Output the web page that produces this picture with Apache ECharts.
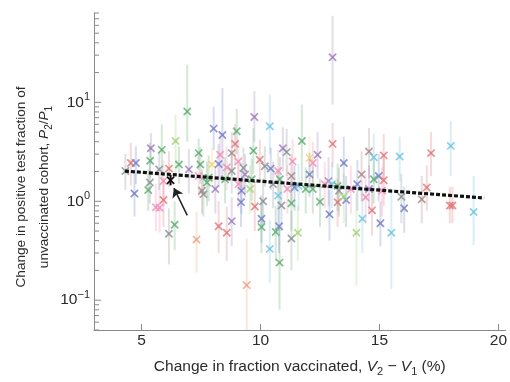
<!DOCTYPE html>
<html>
<head>
<meta charset="utf-8">
<script src="https://cdn.jsdelivr.net/npm/echarts@6/dist/echarts.min.js"></script>
<style>
  html, body { margin: 0; padding: 0; background: #fff; }
  #chart { width: 510px; height: 382px; }
</style>
</head>
<body>
<div id="chart"></div>
<script>
// marker colours (index used by colorIdx)
const palette = ['#7480c4', '#62ad72', '#e0787a', '#72c4e0', '#f090b8', '#a6d27a',
  '#8c9494', '#9c80bc', '#f0a080', '#f0d47a', '#a88a8a']

// change in fraction vaccinated (%)
const xVals = [4.32, 4.55, 4.76, 4.70, 5.39, 5.36, 5.35, 5.28, 5.85, 5.74,
  5.92, 5.60, 5.76, 5.92, 6.15, 6.43, 6.57, 6.39, 6.15, 6.92,
  6.99, 7.31, 7.40, 7.47, 7.54, 7.60, 7.75, 8.03, 8.40, 7.96,
  8.24, 8.10, 8.24, 8.58, 8.79, 9.00, 8.93, 8.79, 9.35, 9.20,
  9.18, 9.42, 9.74, 9.70, 9.97, 9.76, 10.04, 10.04, 10.11, 10.39,
  10.18, 10.43, 10.74, 10.39, 10.80, 10.78, 10.64, 10.88, 10.74, 10.81,
  10.94, 11.10, 11.30, 11.30, 11.30, 11.43, 11.74, 11.57, 12.06, 12.06,
  12.40, 11.90, 12.50, 12.86, 12.90, 13.03, 13.03, 13.24, 13.50, 13.60,
  13.30, 14.25, 14.07, 14.03, 14.28, 14.42, 14.56, 14.76, 14.69, 14.97,
  15.04, 15.18, 15.18, 15.11, 15.50, 15.85, 15.92, 16.04, 16.78, 16.99,
  17.17, 18.00, 17.96, 18.07, 18.96, 7.82, 8.51, 8.79, 9.07, 9.56,
  9.63, 10.53, 11.13, 11.60, 12.20, 12.70, 13.80, 14.56, 14.76, 7.40,
  8.30, 8.58, 9.07, 9.28, 11.35, 12.20, 13.00, 13.24, 13.50]

// P2/P1 (point, lower and upper end of the bar)
const yVals = [2.02, 2.44, 2.44, 1.20, 3.44, 2.57, 1.55, 1.30, 3.31, 2.10,
  1.60, 0.87, 0.86, 1.03, 2.14, 4.07, 2.35, 0.58, 0.47, 8.08,
  2.10, 0.41, 3.07, 2.35, 1.28, 1.18, 1.55, 5.43, 4.67, 2.35,
  2.38, 1.33, 0.56, 0.48, 0.63, 5.11, 3.80, 3.07, 1.87, 1.28,
  0.98, 0.142, 7.10, 3.24, 2.63, 0.886, 0.667, 0.55, 1.00, 5.73,
  2.26, 2.14, 2.02, 0.33, 0.24, 0.56, 0.49, 0.905, 1.14, 1.67,
  3.44, 3.14, 1.80, 0.42, 0.955, 1.38, 4.07, 0.48, 2.74, 1.87,
  2.95, 1.33, 0.99, 1.60, 0.74, 28.6, 3.80, 0.977, 2.44, 1.03,
  1.28, 1.87, 1.49, 0.48, 0.667, 1.10, 3.19, 2.78, 0.81, 1.80,
  0.60, 2.91, 1.63, 1.28, 0.48, 2.84, 1.11, 0.85, 1.05, 1.38,
  3.07, 3.63, 0.905, 0.905, 0.778, 1.73, 1.67, 2.02, 1.49, 1.33,
  1.67, 1.49, 1.33, 1.43, 1.33, 1.49, 1.33, 1.33, 1.67, 1.80,
  2.95, 2.20, 2.53, 2.17, 2.53, 2.44, 1.49, 1.43, 1.11]

const yLow = [1.30, 1.45, 1.50, 0.70, 2.40, 1.70, 0.95, 0.80, 1.70, 1.30,
  0.90, 0.50, 0.48, 0.55, 1.40, 1.90, 1.50, 0.32, 0.23, 4.0,
  1.20, 0.19, 2.1, 1.5, 0.75, 0.70, 0.90, 3.3, 1.6, 1.5,
  1.4, 0.75, 0.30, 0.25, 0.35, 3.0, 2.3, 1.8, 1.1, 0.75,
  0.55, 0.05, 4.0, 1.9, 1.6, 0.50, 0.38, 0.30, 0.55, 3.0,
  1.4, 1.3, 1.2, 0.15, 0.08, 0.30, 0.25, 0.50, 0.60, 0.95,
  2.0, 1.8, 1.0, 0.20, 0.50, 0.80, 1.6, 0.25, 1.6, 1.1,
  1.7, 0.75, 0.55, 0.90, 0.40, 9.5, 2.2, 0.55, 1.3, 0.55,
  0.70, 1.0, 0.80, 0.14, 0.30, 0.60, 1.7, 1.5, 0.45, 1.0,
  0.35, 1.6, 0.90, 0.70, 0.13, 1.6, 0.60, 0.48, 0.60, 0.80,
  1.8, 1.8, 0.60, 0.60, 0.36, 1.0, 0.95, 1.2, 0.85, 0.75,
  1.0, 0.85, 0.75, 0.80, 0.75, 0.85, 0.75, 0.75, 0.95, 1.1,
  1.7, 1.3, 1.5, 1.3, 1.5, 1.4, 0.85, 0.80, 0.60]

const yHigh = [3.0, 3.9, 3.6, 2.0, 4.9, 3.9, 2.5, 2.1, 6.0, 3.2,
  2.6, 1.5, 1.5, 1.7, 3.2, 7.5, 3.6, 1.0, 0.85, 24.0,
  3.4, 0.78, 4.3, 3.5, 2.1, 1.9, 2.5, 9.0, 14.0, 3.5,
  3.8, 2.2, 1.0, 0.88, 1.1, 8.6, 6.0, 5.0, 3.0, 2.1,
  1.7, 0.42, 13.0, 5.5, 4.2, 1.5, 1.15, 0.95, 1.7, 12.0,
  3.6, 3.5, 3.3, 0.65, 0.55, 1.0, 0.90, 1.6, 2.0, 2.8,
  5.6, 5.4, 3.0, 0.80, 1.7, 2.3, 9.5, 0.90, 4.5, 3.1,
  5.0, 2.2, 1.7, 2.8, 1.3, 75.0, 6.2, 1.7, 4.5, 1.8,
  2.2, 3.2, 2.6, 1.2, 1.3, 1.9, 5.5, 4.8, 1.4, 3.0,
  1.0, 4.8, 2.8, 2.2, 1.3, 4.5, 1.9, 1.4, 1.8, 2.3,
  5.0, 6.5, 1.4, 1.4, 1.8, 2.9, 2.8, 3.3, 2.5, 2.3,
  2.7, 2.5, 2.3, 2.4, 2.3, 2.5, 2.3, 2.3, 2.8, 2.9,
  5.0, 3.6, 4.2, 3.5, 4.2, 4.0, 2.5, 2.4, 1.9]

const colorIdx = [6, 2, 0, 0, 7, 1, 6, 1, 1, 6,
  4, 4, 4, 2, 2, 5, 1, 1, 6, 1,
  7, 8, 1, 1, 10, 6, 1, 0, 0, 9,
  0, 7, 2, 2, 7, 1, 2, 10, 7, 0,
  0, 8, 7, 1, 2, 2, 0, 1, 6, 3,
  6, 0, 4, 3, 1, 0, 1, 6, 3, 1,
  7, 6, 10, 6, 1, 0, 1, 5, 9, 0,
  7, 1, 1, 7, 0, 7, 2, 2, 0, 0,
  6, 10, 0, 5, 3, 4, 10, 3, 2, 0,
  0, 2, 2, 4, 3, 3, 6, 0, 10, 2,
  2, 3, 2, 2, 3, 1, 1, 6, 4, 5,
  1, 6, 4, 3, 1, 4, 4, 7, 1, 4,
  4, 4, 4, 6, 4, 4, 3, 1, 5]

// highlighted city (black) and the arrow pointing at it
const markX = [6.22]
const markY = [1.63]
const markLow = [1.45]
const markHigh = [1.85]
const arrowFrom = [6.92, 0.72]
const arrowTo = [6.36, 1.36]

// fitted trend
const fitX = [4.3, 19.4]
const fitY = [2.02, 1.08]

// axis ticks
const xTicks = [5, 10, 15, 20]
const yTickVals = [0.05, 0.06, 0.07, 0.08, 0.09, 0.1, 0.2, 0.3, 0.4, 0.5, 0.6, 0.7, 0.8, 0.9,
  1, 2, 3, 4, 5, 6, 7, 8, 9, 10, 20, 30, 40, 50, 60, 70, 80]
const yMajor = [0.1, 1, 10]

const X_MIN = 3
const FONT = '"Liberation Sans", Arial, Helvetica, sans-serif'
const TEXT = '#2b2b2b'
const AXIS = '#8a8a8a'

const barData = xVals.map((x, i) => [x, yLow[i], yHigh[i], colorIdx[i]])
const crossData = xVals.map((x, i) => [x, yVals[i], colorIdx[i]])

function renderBar(params, api) {
  const top = api.coord([api.value(0), api.value(2)])
  const bot = api.coord([api.value(0), api.value(1)])
  const c = api.value(3) < 0 ? '#111' : palette[api.value(3)]
  return {
    type: 'line',
    shape: { x1: top[0], y1: top[1], x2: bot[0], y2: bot[1] },
    style: { stroke: c, lineWidth: 2, opacity: api.value(3) < 0 ? 1 : 0.28 },
  }
}

function renderCross(params, api) {
  const p = api.coord([api.value(0), api.value(1)])
  const c = api.value(2) < 0 ? '#111' : palette[api.value(2)]
  const op = api.value(2) < 0 ? 1 : 0.82
  const s = 3.6
  return {
    type: 'group',
    children: [
      { type: 'line', shape: { x1: p[0] - s, y1: p[1] - s, x2: p[0] + s, y2: p[1] + s }, style: { stroke: c, lineWidth: 1.7, opacity: op } },
      { type: 'line', shape: { x1: p[0] - s, y1: p[1] + s, x2: p[0] + s, y2: p[1] - s }, style: { stroke: c, lineWidth: 1.7, opacity: op } },
    ],
  }
}

function renderYTick(params, api) {
  const v = api.value(1)
  const y = api.coord([X_MIN, v])[1]
  const x0 = params.coordSys.x
  const len = yMajor.indexOf(v) >= 0 ? 7 : 5
  return {
    type: 'line',
    shape: { x1: x0, y1: y, x2: x0 + len, y2: y },
    style: { stroke: AXIS, lineWidth: 1 },
  }
}

const chart = echarts.init(document.getElementById('chart'))

chart.setOption({
  animation: false,
  textStyle: { fontFamily: FONT },
  grid: { left: 94, right: 2, top: 13, bottom: 49 },
  xAxis: {
    type: 'value',
    min: X_MIN,
    max: 20.3,
    name: 'Change in fraction vaccinated, {i|V}{s|2} − {i|V}{s|1} (%)',
    nameLocation: 'middle',
    nameGap: 26,
    nameTextStyle: {
      fontSize: 15.5, color: TEXT, fontFamily: FONT,
      rich: {
        i: { fontSize: 15.5, fontStyle: 'italic', color: TEXT, fontFamily: FONT },
        s: { fontSize: 11, color: TEXT, fontFamily: FONT, padding: [10, 0, 0, 0] },
      },
    },
    axisLine: { lineStyle: { color: AXIS, width: 1 } },
    axisTick: { inside: true, length: 6, customValues: xTicks, lineStyle: { color: AXIS } },
    axisLabel: { customValues: xTicks, fontSize: 15.5, color: TEXT, margin: 3, fontFamily: FONT },
    splitLine: { show: false },
  },
  yAxis: {
    type: 'log',
    logBase: 10,
    min: 0.05,
    max: 80,
    axisLine: { show: true, lineStyle: { color: AXIS, width: 1 } },
    axisTick: { show: false },
    axisLabel: {
      showMinLabel: false,
      showMaxLabel: false,
      margin: 4,
      fontSize: 15.5,
      color: TEXT,
      fontFamily: FONT,
      formatter: (v) => {
        const e = Math.round(Math.log10(v))
        return '10{sup|' + (e < 0 ? '−' + (-e) : e) + '}'
      },
      rich: { sup: { fontSize: 11, color: TEXT, fontFamily: FONT, padding: [0, 0, 10, 0] } },
    },
    splitLine: { show: false },
  },
  graphic: [
    {
      type: 'text',
      x: 33,
      y: 187,
      rotation: Math.PI / 2,
      style: {
        text: 'Change in positive test fraction of\nunvaccinated cohort, {i|P}{s|2}/{i|P}{s|1}',
        fill: TEXT,
        font: '13.6px ' + FONT,
        align: 'center',
        verticalAlign: 'middle',
        lineHeight: 23,
        rich: {
          i: { fontSize: 13.6, fontStyle: 'italic', fill: TEXT, fontFamily: FONT, lineHeight: 23 },
          s: { fontSize: 10, fill: TEXT, fontFamily: FONT, padding: [9, 0, 0, 0], lineHeight: 23 },
        },
      },
    },
  ],
  series: [
    {
      type: 'custom',
      renderItem: renderYTick,
      data: yTickVals.map((v) => [X_MIN, v]),
      encode: { x: 0, y: 1 },
      silent: true,
      z: 1,
    },
    {
      type: 'custom',
      renderItem: renderBar,
      data: barData,
      encode: { x: 0, y: [1, 2] },
      z: 2,
    },
    {
      type: 'custom',
      renderItem: renderCross,
      data: crossData,
      encode: { x: 0, y: 1 },
      z: 3,
    },
    {
      type: 'line',
      data: fitX.map((x, i) => [x, fitY[i]]),
      showSymbol: false,
      lineStyle: { color: '#111', width: 3.2, type: [4, 2], cap: 'butt' },
      z: 4,
    },
    {
      type: 'custom',
      renderItem: renderBar,
      data: markX.map((x, i) => [x, markLow[i], markHigh[i], -1]),
      encode: { x: 0, y: [1, 2] },
      z: 5,
    },
    {
      type: 'custom',
      renderItem: renderCross,
      data: markX.map((x, i) => [x, markY[i], -1]),
      encode: { x: 0, y: 1 },
      z: 5,
      markLine: {
        silent: true,
        symbol: ['none', 'arrow'],
        symbolSize: 9,
        label: { show: false },
        lineStyle: { color: '#222', width: 1.5, type: 'solid' },
        data: [[{ coord: arrowFrom }, { coord: arrowTo }]],
      },
    },
  ],
})
</script>
</body>
</html>
